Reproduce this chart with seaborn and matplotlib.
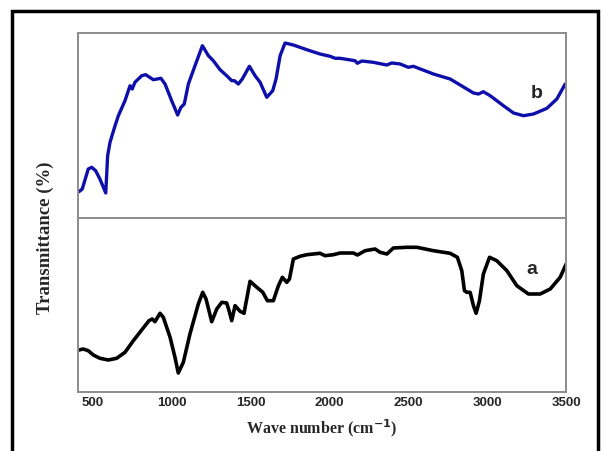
import numpy as np
import pandas as pd
import matplotlib
matplotlib.use("Agg")
import matplotlib.pyplot as plt
from matplotlib.patches import Rectangle
import seaborn as sns

# FTIR spectrum b (upper trace): wavenumber (cm-1) and transmittance (arb. units)
wn_b = [411, 432, 470, 492, 517, 544, 581, 593, 608, 640, 661, 703, 735, 749, 766,
        809, 834, 883, 931, 957, 999, 1037, 1058, 1079, 1105, 1147, 1194, 1232, 1263,
        1306, 1348, 1380, 1397, 1422, 1447, 1492, 1528, 1560, 1602, 1640, 1661, 1687,
        1718, 1771, 1856, 1940, 2004, 2036, 2067, 2162, 2177, 2205, 2278, 2363, 2395,
        2448, 2500, 2532, 2659, 2765, 2829, 2913, 2945, 2976, 3019, 3103, 3167, 3230,
        3294, 3379, 3442, 3495]
t_b = [26.3, 29, 49, 50.7, 47.3, 39, 25, 62.3, 75.7, 92.3, 102.3, 117.3, 132.3, 129, 135.7,
       142.3, 143.3, 138.3, 139.7, 134, 117.3, 103, 110.7, 114, 134, 152.3, 172.3, 162.3, 157.3,
       148.3, 142.3, 137.3, 137.3, 134, 139, 151.7, 142.3, 135.7, 120.7, 127.3, 139, 162.3,
       175, 173, 168.3, 164, 161.7, 159.7, 159.7, 157.3, 154.7, 157, 155.7, 153, 155,
       154, 150.7, 151.7, 144, 139, 133, 125, 124, 126.3, 122.3, 112.3, 105, 102.3,
       104, 109.7, 119, 134]

# FTIR spectrum a (lower trace)
wn_a = [411, 438, 470, 502, 544, 597, 650, 703, 756, 809, 855, 876, 893, 925, 946,
        989, 1020, 1041, 1073, 1115, 1168, 1196, 1217, 1253, 1285, 1317, 1348, 1363, 1380,
        1401, 1433, 1458, 1496, 1539, 1577, 1606, 1644, 1676, 1701, 1729, 1746, 1771,
        1813, 1856, 1940, 1972, 2025, 2067, 2152, 2177, 2226, 2289, 2321, 2364, 2405,
        2490, 2554, 2659, 2765, 2811, 2839, 2856, 2871, 2892, 2913, 2930, 2951, 2976,
        3015, 3061, 3125, 3188, 3262, 3336, 3400, 3463, 3501]
t_a = [42, 43, 41.3, 37, 33.7, 32, 33.7, 39.7, 51.3, 62, 71.3, 73, 70.3, 78.7, 74.7,
       54.7, 34.7, 19, 29.7, 58, 88, 99.7, 93, 70.3, 83, 89.7, 89, 81.3, 71.3,
       86.3, 80.7, 78.7, 110.7, 104.7, 99.7, 91.3, 91.3, 106.3, 114.7, 109.7, 113, 133,
       135.7, 137.3, 138.7, 136.3, 137.3, 139, 139, 137, 141.3, 143, 139.7, 138, 144,
       144.7, 144.7, 141.3, 138.7, 134.7, 121.3, 101.3, 99.7, 99.7, 86.3, 78.7, 91.3, 118,
       134.7, 131.3, 121.3, 106.3, 98, 98, 103, 114.7, 128]

xticks = [500, 1000, 1500, 2000, 2500, 3000, 3500]
xlim = (405, 3500)

sns.set_style("white")

fig = plt.figure(figsize=(6.03, 4.52), dpi=100)
gs = fig.add_gridspec(2, 1, height_ratios=[185, 174], hspace=0,
                      left=78 / 603, right=566 / 603,
                      top=1 - 34 / 452, bottom=1 - 393 / 452)
ax_b = fig.add_subplot(gs[0])
ax_a = fig.add_subplot(gs[1], sharex=ax_b)

df_b = pd.DataFrame({"wn": wn_b, "T": t_b})
df_a = pd.DataFrame({"wn": wn_a, "T": t_a})

sns.lineplot(data=df_b, x="wn", y="T", ax=ax_b, sort=False, color="#0e0eaa", linewidth=2.4)
sns.lineplot(data=df_a, x="wn", y="T", ax=ax_a, sort=False, color="black", linewidth=2.6)

ax_b.set_ylim(0, 185)
ax_a.set_ylim(0, 174)
ax_b.set_xlim(*xlim)

for ax in (ax_b, ax_a):
    ax.set_yticks([])
    ax.set_ylabel("")
    ax.set_xlabel("")
    for sp in ax.spines.values():
        sp.set_color("#8c8c8c")
        sp.set_linewidth(1.4)

ax_b.tick_params(axis="x", length=0, labelbottom=False)
ax_a.set_xticks(xticks)
ax_a.set_xticklabels([str(v) for v in xticks], fontweight="bold",
                     fontsize=9.5, family="Liberation Sans")
ax_a.tick_params(axis="x", length=0, pad=3)

ax_b.text(3311, 125, "b", fontsize=14, fontweight="bold", family="Liberation Sans",
          ha="center", va="center")
ax_a.text(3283, 123, "a", fontsize=14, fontweight="bold", family="Liberation Sans",
          ha="center", va="center")

fig.text(322 / 603, 1 - 433 / 452, "Wave number (cm$^{\\mathbf{-1}}$)",
         ha="center", va="baseline", fontsize=11.5, fontweight="bold",
         family="Liberation Serif")
fig.text(45 / 603, 1 - 238 / 452, "Transmittance (%)", rotation=90,
         ha="center", va="center", fontsize=13.5, fontweight="bold",
         family="Liberation Serif")

# outer frame around the figure
frame = Rectangle((12 / 603, -0.05), (598 - 12) / 603, 1.05 - 12 / 452,
                  transform=fig.transFigure, fill=False, edgecolor="black",
                  linewidth=2.5, clip_on=False)
fig.patches.append(frame)

fig.savefig("out.png", dpi=100)
